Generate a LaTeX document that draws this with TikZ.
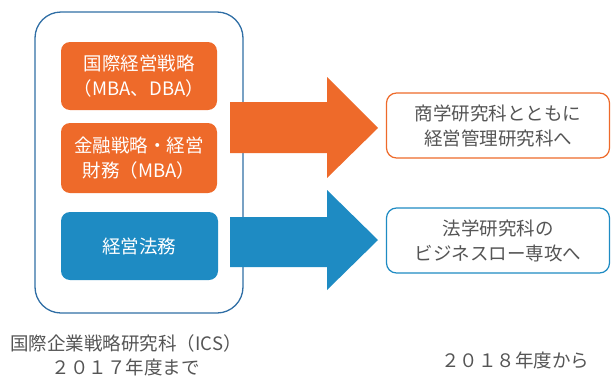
\documentclass[tikz,border=0pt]{standalone}
\usepackage{fontspec}
\setmainfont{Noto Sans CJK JP}
\definecolor{orng}{HTML}{EE6A2A}
\definecolor{blu}{HTML}{1E8BC3}
\definecolor{frame}{HTML}{2F6EA5}
\definecolor{txt}{HTML}{555555}
\begin{document}
\begin{tikzpicture}[x=1pt,y=-1pt,
  inbox/.style={rounded corners=9pt,text=white,font=\fontsize{18.5}{25}\selectfont,align=center},
  outbox/.style={draw,line width=1.2pt,rounded corners=10pt,fill=white,text=txt,font=\fontsize{18.5}{25}\selectfont,align=center},
  lbl/.style={text=txt,font=\fontsize{18.5}{24}\selectfont,align=center}]
\useasboundingbox (0,0) rectangle (611,378);
% outer frame
\draw[frame,line width=1.3pt,rounded corners=26pt] (35,12) rectangle (243,313);
% inner boxes
\fill[orng,rounded corners=9pt] (61,42) rectangle (217,110);
\node[inbox] (a) at (139,76) {国際経営戦略\\（MBA、DBA）};
\fill[orng,rounded corners=9pt] (61,123) rectangle (217,193);
\node[inbox] (b) at (139,158) {金融戦略・経営\\財務（MBA）};
\fill[blu,rounded corners=9pt] (61,212) rectangle (218,280);
\node[inbox] (c) at (139,246) {経営法務};
% arrows
\fill[orng] (230,102) -- (327,102) -- (327,77) -- (378,128) -- (327,178) -- (327,153) -- (230,153) -- cycle;
\fill[blu] (230,217) -- (327,217) -- (327,190) -- (378,240) -- (327,290) -- (327,267) -- (230,267) -- cycle;
% right boxes
\node[outbox,draw=orng,minimum width=223pt,minimum height=65pt] (d) at (498,125.5) {商学研究科とともに\\経営管理研究科へ};
\node[outbox,draw=blu,minimum width=223pt,minimum height=65pt] (e) at (498,240.5) {法学研究科の\\ビジネスロー専攻へ};
% labels
\node[lbl] (f) at (126,355) {国際企業戦略研究科（ICS）\\２０１７年度まで};
\node[lbl] (g) at (515,360) {２０１８年度から};
\end{tikzpicture}
\end{document}
